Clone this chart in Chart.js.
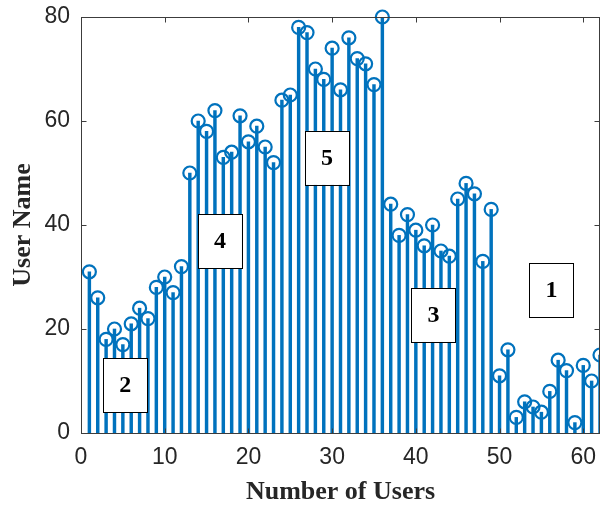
<!DOCTYPE html>
<html>
<head>
<meta charset="utf-8">
<script src="https://cdn.jsdelivr.net/npm/chart.js@4.4.0/dist/chart.umd.min.js"></script>
<style>
    html, body { margin: 0; padding: 0; background: #fff; }
    #wrap { width: 600px; height: 505px; position: relative; }
</style>
</head>
<body>
<div id="wrap"><canvas id="grafico"></canvas></div>
<script>
const userIds = [1, 2, 3, 4, 5, 6, 7, 8, 9, 10, 11, 12, 13, 14, 15, 16, 17, 18, 19, 20,
    21, 22, 23, 24, 25, 26, 27, 28, 29, 30, 31, 32, 33, 34, 35, 36, 37, 38, 39, 40,
    41, 42, 43, 44, 45, 46, 47, 48, 49, 50, 51, 52, 53, 54, 55, 56, 57, 58, 59, 60, 61, 62];
const userValues = [31, 26, 18, 20, 17, 21, 24, 22, 28, 30, 27, 32,
    50, 60, 58, 62, 53, 54, 61, 56, 59, 55, 52,
    64, 65, 78, 77, 70, 68, 74, 66, 76, 72, 71, 67, 80,
    44, 38, 42, 39, 36, 40, 35, 34, 45, 48, 46, 33, 43,
    11, 16, 3, 6, 5, 4, 8, 14, 12, 2, 13, 10, 15];
const xTicks = [0, 10, 20, 30, 40, 50, 60];
const yTicks = [0, 20, 40, 60, 80];
const noteLabels = ['1', '2', '3', '4', '5'];
const noteX = [56.2, 5.3, 42.1, 16.6, 29.4];
const noteY = [27.5, 9.2, 22.7, 36.9, 52.9];

const azul = '#0072BD';
const puntos = userIds.map((x, i) => ({ x: x, y: userValues[i] }));

// cajas con numero, marco y marcas hacia dentro (estilo matlab)
const extras = {
    id: 'extras',
    afterDatasetsDraw(chart) {
        const c = chart.ctx, a = chart.chartArea;
        const sx = chart.scales.x, sy = chart.scales.y;
        c.save();
        noteLabels.forEach((t, i) => {
            const px = sx.getPixelForValue(noteX[i]);
            const py = sy.getPixelForValue(noteY[i]);
            c.fillStyle = '#fff';
            c.fillRect(px - 22, py - 27, 44, 54);
            c.strokeStyle = '#000';
            c.lineWidth = 1;
            c.strokeRect(Math.round(px - 22) + 0.5, Math.round(py - 27) + 0.5, 44, 54);
            c.fillStyle = '#000';
            c.font = 'bold 24px "Liberation Serif"';
            c.textAlign = 'center';
            c.textBaseline = 'middle';
            c.fillText(t, px, py + 1);
        });
        c.strokeStyle = '#3c3c3c';
        c.lineWidth = 1;
        const L = Math.round(a.left) + 0.5, R = Math.round(a.right) - 0.5;
        const T = Math.round(a.top) + 0.5, B = Math.round(a.bottom) + 0.5;
        c.strokeRect(L, T, R - L, B - T);
        c.beginPath();
        xTicks.forEach(v => {
            const p = Math.round(sx.getPixelForValue(v)) + 0.5;
            c.moveTo(p, B); c.lineTo(p, B - 5);
            c.moveTo(p, T); c.lineTo(p, T + 5);
        });
        yTicks.forEach(v => {
            const p = Math.round(sy.getPixelForValue(v)) + 0.5;
            c.moveTo(L, p); c.lineTo(L + 5, p);
            c.moveTo(R, p); c.lineTo(R - 5, p);
        });
        c.stroke();
        c.restore();
    }
};

const ctx = document.getElementById('grafico').getContext('2d');
new Chart(ctx, {
    type: 'bar',
    data: {
        datasets: [{
            type: 'bar',
            data: puntos,
            backgroundColor: azul,
            barThickness: 2.8,
            order: 2,
        }, {
            type: 'scatter',
            data: puntos,
            showLine: false,
            pointRadius: 6.5,
            pointHoverRadius: 6.5,
            pointBorderWidth: 2.2,
            pointBackgroundColor: 'rgba(0,0,0,0)',
            pointBorderColor: azul,
            clip: false,
            order: 1,
        }],
    },
    options: {
        responsive: true,
        maintainAspectRatio: false,
        animation: false,
        layout: { autoPadding: false, padding: { top: 17, right: 0, left: 0, bottom: 0 } },
        plugins: { legend: { display: false }, tooltip: { enabled: false } },
        scales: {
            x: {
                type: 'linear',
                min: 0,
                max: 62,
                offset: false,
                grid: { display: false, drawTicks: false },
                border: { display: false },
                afterBuildTicks: s => { s.ticks = xTicks.map(v => ({ value: v })); },
                afterFit: s => { s.height = 72; s.paddingLeft = 0; s.paddingRight = 0; },
                ticks: {
                    padding: 11,
                    color: '#262626',
                    font: { family: '"Liberation Sans", Arial', size: 23 },
                },
                title: {
                    display: true,
                    text: 'Number of Users',
                    color: '#262626',
                    font: { family: '"Liberation Serif", "Times New Roman"', size: 26, weight: 'bold', lineHeight: 1 },
                    padding: { top: 0, bottom: 0 },
                },
            },
            y: {
                min: 0,
                max: 80,
                grid: { display: false, drawTicks: false },
                border: { display: false },
                afterBuildTicks: s => { s.ticks = yTicks.map(v => ({ value: v })); },
                afterFit: s => { s.width = 81; s.paddingTop = 0; s.paddingBottom = 0; },
                ticks: {
                    padding: 11,
                    color: '#262626',
                    font: { family: '"Liberation Sans", Arial', size: 23 },
                },
                title: {
                    display: true,
                    text: 'User Name',
                    color: '#262626',
                    font: { family: '"Liberation Serif", "Times New Roman"', size: 26, weight: 'bold', lineHeight: 1 },
                    padding: { top: 10, bottom: 0 },
                },
            },
        },
    },
    plugins: [extras],
});
</script>
</body>
</html>
